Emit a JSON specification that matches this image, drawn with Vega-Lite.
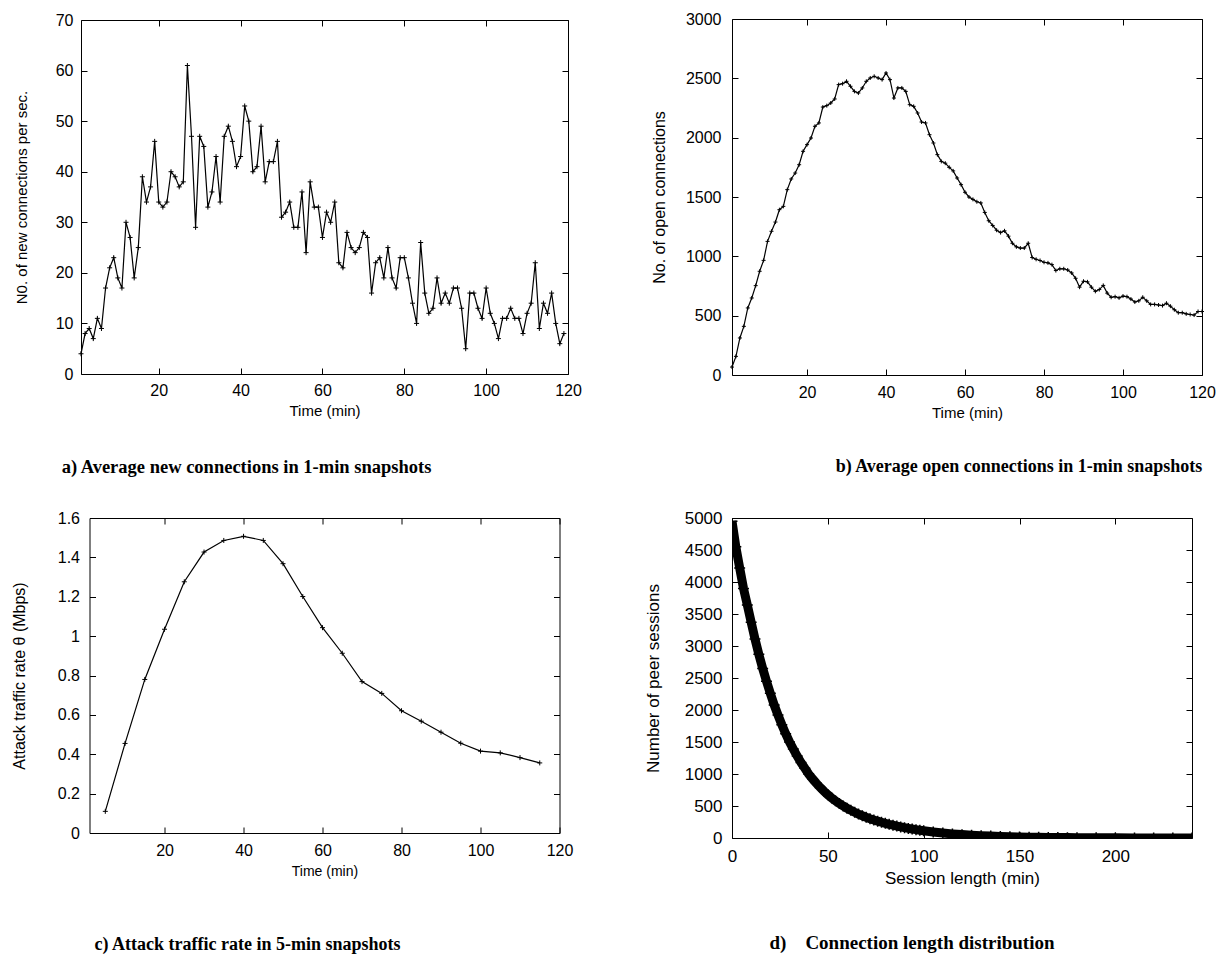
{
  "$schema": "https://vega.github.io/schema/vega-lite/v6.json",
  "background": "white",
  "padding": {"left": 10, "top": 10, "right": 5, "bottom": 5},
  "config": {
    "view": {"stroke": "black", "strokeWidth": 1},
    "font": "Liberation Sans",
    "axis": {
      "domain": false, "grid": false, "ticks": true, "tickSize": -6, "tickColor": "black", "tickWidth": 1,
      "labelColor": "black", "titleColor": "black", "labelFont": "Liberation Sans", "titleFont": "Liberation Sans",
      "titleFontWeight": "normal", "labelFlush": false, "labelOverlap": false
    }
  },
  "datasets": {
    "a": [
      {"t":1,"v":4},{"t":2,"v":8},{"t":3,"v":9},{"t":4,"v":7},{"t":5,"v":11},{"t":6,"v":9},{"t":7,"v":17},{"t":8,"v":21},{"t":9,"v":23},{"t":10,"v":19},
      {"t":11,"v":17},{"t":12,"v":30},{"t":13,"v":27},{"t":14,"v":19},{"t":15,"v":25},{"t":16,"v":39},{"t":17,"v":34},{"t":18,"v":37},{"t":19,"v":46},{"t":20,"v":34},
      {"t":21,"v":33},{"t":22,"v":34},{"t":23,"v":40},{"t":24,"v":39},{"t":25,"v":37},{"t":26,"v":38},{"t":27,"v":61},{"t":28,"v":47},{"t":29,"v":29},{"t":30,"v":47},
      {"t":31,"v":45},{"t":32,"v":33},{"t":33,"v":36},{"t":34,"v":43},{"t":35,"v":34},{"t":36,"v":47},{"t":37,"v":49},{"t":38,"v":46},{"t":39,"v":41},{"t":40,"v":43},
      {"t":41,"v":53},{"t":42,"v":50},{"t":43,"v":40},{"t":44,"v":41},{"t":45,"v":49},{"t":46,"v":38},{"t":47,"v":42},{"t":48,"v":42},{"t":49,"v":46},{"t":50,"v":31},
      {"t":51,"v":32},{"t":52,"v":34},{"t":53,"v":29},{"t":54,"v":29},{"t":55,"v":36},{"t":56,"v":24},{"t":57,"v":38},{"t":58,"v":33},{"t":59,"v":33},{"t":60,"v":27},
      {"t":61,"v":32},{"t":62,"v":30},{"t":63,"v":34},{"t":64,"v":22},{"t":65,"v":21},{"t":66,"v":28},{"t":67,"v":25},{"t":68,"v":24},{"t":69,"v":25},{"t":70,"v":28},
      {"t":71,"v":27},{"t":72,"v":16},{"t":73,"v":22},{"t":74,"v":23},{"t":75,"v":19},{"t":76,"v":25},{"t":77,"v":19},{"t":78,"v":17},{"t":79,"v":23},{"t":80,"v":23},
      {"t":81,"v":19},{"t":82,"v":14},{"t":83,"v":10},{"t":84,"v":26},{"t":85,"v":16},{"t":86,"v":12},{"t":87,"v":13},{"t":88,"v":19},{"t":89,"v":14},{"t":90,"v":16},
      {"t":91,"v":14},{"t":92,"v":17},{"t":93,"v":17},{"t":94,"v":13},{"t":95,"v":5},{"t":96,"v":16},{"t":97,"v":16},{"t":98,"v":13},{"t":99,"v":11},{"t":100,"v":17},
      {"t":101,"v":12},{"t":102,"v":10},{"t":103,"v":7},{"t":104,"v":11},{"t":105,"v":11},{"t":106,"v":13},{"t":107,"v":11},{"t":108,"v":11},{"t":109,"v":8},{"t":110,"v":12},
      {"t":111,"v":14},{"t":112,"v":22},{"t":113,"v":9},{"t":114,"v":14},{"t":115,"v":12},{"t":116,"v":16},{"t":117,"v":10},{"t":118,"v":6},{"t":119,"v":8}
    ],
    "b": [
      {"t":1,"v":67},{"t":2,"v":157},{"t":3,"v":312},{"t":4,"v":410},{"t":5,"v":565},{"t":6,"v":649},{"t":7,"v":753},{"t":8,"v":874},{"t":9,"v":966},{"t":10,"v":1126},
      {"t":11,"v":1211},{"t":12,"v":1289},{"t":13,"v":1393},{"t":14,"v":1421},{"t":15,"v":1562},{"t":16,"v":1652},{"t":17,"v":1702},{"t":18,"v":1772},{"t":19,"v":1885},{"t":20,"v":1941},
      {"t":21,"v":1997},{"t":22,"v":2096},{"t":23,"v":2124},{"t":24,"v":2258},{"t":25,"v":2270},{"t":26,"v":2292},{"t":27,"v":2326},{"t":28,"v":2447},{"t":29,"v":2455},{"t":30,"v":2475},
      {"t":31,"v":2433},{"t":32,"v":2390},{"t":33,"v":2376},{"t":34,"v":2419},{"t":35,"v":2475},{"t":36,"v":2503},{"t":37,"v":2517},{"t":38,"v":2503},{"t":39,"v":2489},{"t":40,"v":2545},
      {"t":41,"v":2489},{"t":42,"v":2334},{"t":43,"v":2419},{"t":44,"v":2419},{"t":45,"v":2390},{"t":46,"v":2278},{"t":47,"v":2264},{"t":48,"v":2208},{"t":49,"v":2132},{"t":50,"v":2124},
      {"t":51,"v":2025},{"t":52,"v":1955},{"t":53,"v":1857},{"t":54,"v":1800},{"t":55,"v":1785},{"t":56,"v":1750},{"t":57,"v":1720},{"t":58,"v":1660},{"t":59,"v":1604},{"t":60,"v":1540},
      {"t":61,"v":1500},{"t":62,"v":1480},{"t":63,"v":1460},{"t":64,"v":1450},{"t":65,"v":1370},{"t":66,"v":1300},{"t":67,"v":1260},{"t":68,"v":1220},{"t":69,"v":1200},{"t":70,"v":1215},
      {"t":71,"v":1170},{"t":72,"v":1110},{"t":73,"v":1080},{"t":74,"v":1070},{"t":75,"v":1070},{"t":76,"v":1110},{"t":77,"v":990},{"t":78,"v":975},{"t":79,"v":965},{"t":80,"v":950},
      {"t":81,"v":945},{"t":82,"v":930},{"t":83,"v":880},{"t":84,"v":895},{"t":85,"v":895},{"t":86,"v":885},{"t":87,"v":860},{"t":88,"v":815},{"t":89,"v":740},{"t":90,"v":790},
      {"t":91,"v":785},{"t":92,"v":740},{"t":93,"v":705},{"t":94,"v":720},{"t":95,"v":755},{"t":96,"v":690},{"t":97,"v":655},{"t":98,"v":660},{"t":99,"v":650},{"t":100,"v":665},
      {"t":101,"v":660},{"t":102,"v":640},{"t":103,"v":615},{"t":104,"v":625},{"t":105,"v":655},{"t":106,"v":625},{"t":107,"v":595},{"t":108,"v":595},{"t":109,"v":590},{"t":110,"v":585},
      {"t":111,"v":605},{"t":112,"v":580},{"t":113,"v":550},{"t":114,"v":525},{"t":115,"v":525},{"t":116,"v":515},{"t":117,"v":510},{"t":118,"v":505},{"t":119,"v":535},{"t":120,"v":535}
    ],
    "c": [
      {"t":5,"v":0.11},{"t":10,"v":0.455},{"t":15,"v":0.78},{"t":20,"v":1.035},{"t":25,"v":1.276},{"t":30,"v":1.427},{"t":35,"v":1.486},{"t":40,"v":1.507},
      {"t":45,"v":1.486},{"t":50,"v":1.368},{"t":55,"v":1.201},{"t":60,"v":1.043},{"t":65,"v":0.913},{"t":70,"v":0.769},{"t":75,"v":0.709},{"t":80,"v":0.621},
      {"t":85,"v":0.568},{"t":90,"v":0.512},{"t":95,"v":0.456},{"t":100,"v":0.416},{"t":105,"v":0.407},{"t":110,"v":0.383},{"t":115,"v":0.356}
    ],
    "d": [
      {"t":0,"v":4950},{"t":2,"v":4550},{"t":4,"v":4220},{"t":6,"v":3900},{"t":8,"v":3640},{"t":10,"v":3370},{"t":12,"v":3110},{"t":14,"v":2870},{"t":16,"v":2650},{"t":18,"v":2450},
      {"t":20,"v":2260},{"t":22,"v":2080},{"t":24,"v":1920},{"t":26,"v":1770},{"t":28,"v":1630},{"t":30,"v":1500},{"t":32,"v":1390},{"t":34,"v":1280},{"t":36,"v":1180},{"t":38,"v":1090},
      {"t":40,"v":1000},{"t":42,"v":925},{"t":44,"v":855},{"t":46,"v":790},{"t":48,"v":730},{"t":50,"v":675},{"t":52,"v":625},{"t":54,"v":580},{"t":56,"v":540},{"t":58,"v":500},
      {"t":60,"v":465},{"t":62,"v":432},{"t":64,"v":402},{"t":66,"v":374},{"t":68,"v":348},{"t":70,"v":324},{"t":72,"v":302},{"t":74,"v":282},{"t":76,"v":263},{"t":78,"v":246},
      {"t":80,"v":230},{"t":82,"v":214},{"t":84,"v":200},{"t":86,"v":186},{"t":88,"v":173},{"t":90,"v":161},{"t":92,"v":150},{"t":94,"v":140},{"t":96,"v":130},{"t":98,"v":121},
      {"t":100,"v":113},{"t":105,"v":94},{"t":110,"v":78},{"t":115,"v":64},{"t":120,"v":53},{"t":125,"v":44},{"t":130,"v":36},{"t":135,"v":30},{"t":140,"v":25},{"t":145,"v":20},
      {"t":150,"v":16},{"t":155,"v":13},{"t":160,"v":11},{"t":165,"v":9},{"t":170,"v":7},{"t":175,"v":6},{"t":180,"v":5},{"t":190,"v":3},{"t":200,"v":2},{"t":210,"v":1},
      {"t":220,"v":1},{"t":230,"v":0},{"t":240,"v":0}
    ]
  },
  "columns": 2,
  "bounds": "flush",
  "center": true,
  "spacing": {"row": 143, "column": 164},
  "concat": [
    {
      "width": 487, "height": 354,
      "title": {"text": "a) Average new connections in 1-min snapshots", "orient": "bottom", "anchor": "middle", "frame": "group", "dx": -78, "offset": 40, "font": "Liberation Serif", "fontSize": 18.5, "fontWeight": "bold", "color": "black"},
      "data": {"name": "a"},
      "layer": [
        {
          "mark": {"type": "line", "color": "black", "strokeWidth": 1.2},
          "encoding": {
            "x": {"field": "t", "type": "quantitative", "scale": {"domain": [1, 120], "nice": false, "zero": false},
                  "axis": {"orient": "bottom", "values": [20, 40, 60, 80, 100, 120], "title": "Time (min)", "labelFontSize": 16, "titleFontSize": 15, "labelPadding": 14, "titlePadding": 5}},
            "y": {"field": "v", "type": "quantitative", "scale": {"domain": [0, 70], "nice": false},
                  "axis": {"orient": "left", "values": [0, 10, 20, 30, 40, 50, 60, 70], "title": "N0. of new connections per sec.", "labelFontSize": 16, "titleFontSize": 15, "labelPadding": 14, "titlePadding": 26}}
          }
        },
        {
          "mark": {"type": "point", "shape": "M-1,0H1M0,-1V1", "filled": false, "color": "black", "strokeWidth": 1, "size": 25, "opacity": 1},
          "encoding": {
            "x": {"field": "t", "type": "quantitative", "axis": {"orient": "top", "values": [20, 40, 60, 80, 100, 120], "labels": false, "title": null}},
            "y": {"field": "v", "type": "quantitative", "axis": {"orient": "right", "values": [0, 10, 20, 30, 40, 50, 60, 70], "labels": false, "title": null}}
          }
        }
      ],
      "resolve": {"axis": {"x": "independent", "y": "independent"}}
    },
    {
      "width": 470, "height": 356,
      "title": {"text": "b) Average open connections in 1-min snapshots", "orient": "bottom", "anchor": "middle", "frame": "group", "dx": 52, "offset": 38, "font": "Liberation Serif", "fontSize": 18, "fontWeight": "bold", "color": "black"},
      "data": {"name": "b"},
      "layer": [
        {
          "mark": {"type": "line", "color": "black", "strokeWidth": 1.2},
          "encoding": {
            "x": {"field": "t", "type": "quantitative", "scale": {"domain": [1, 120], "nice": false, "zero": false},
                  "axis": {"orient": "bottom", "values": [20, 40, 60, 80, 100, 120], "title": "Time (min)", "labelFontSize": 16, "titleFontSize": 15, "labelPadding": 15, "titlePadding": 5}},
            "y": {"field": "v", "type": "quantitative", "scale": {"domain": [0, 3000], "nice": false},
                  "axis": {"orient": "left", "values": [0, 500, 1000, 1500, 2000, 2500, 3000], "format": "d", "title": "No. of open connections", "labelFontSize": 16, "titleFontSize": 16, "labelPadding": 17, "titlePadding": 18}}
          }
        },
        {
          "mark": {"type": "point", "shape": "M-1,0H1M0,-1V1", "filled": false, "color": "black", "strokeWidth": 1, "size": 16, "opacity": 1},
          "encoding": {
            "x": {"field": "t", "type": "quantitative", "axis": {"orient": "top", "values": [20, 40, 60, 80, 100, 120], "labels": false, "title": null}},
            "y": {"field": "v", "type": "quantitative", "axis": {"orient": "right", "values": [0, 500, 1000, 1500, 2000, 2500, 3000], "labels": false, "title": null}}
          }
        }
      ],
      "resolve": {"axis": {"x": "independent", "y": "independent"}}
    },
    {
      "width": 470, "height": 315,
      "title": {"text": "c) Attack traffic rate in 5-min snapshots", "orient": "bottom", "anchor": "middle", "frame": "group", "dx": -77, "offset": 58, "font": "Liberation Serif", "fontSize": 18, "fontWeight": "bold", "color": "black"},
      "data": {"name": "c"},
      "layer": [
        {
          "mark": {"type": "line", "color": "black", "strokeWidth": 1.2},
          "encoding": {
            "x": {"field": "t", "type": "quantitative", "scale": {"domain": [1, 120], "nice": false, "zero": false},
                  "axis": {"orient": "bottom", "values": [20, 40, 60, 80, 100, 120], "title": "Time (min)", "labelFontSize": 16, "titleFontSize": 14, "labelPadding": 15, "titlePadding": 6}},
            "y": {"field": "v", "type": "quantitative", "scale": {"domain": [0, 1.6], "nice": false},
                  "axis": {"orient": "left", "values": [0, 0.2, 0.4, 0.6, 0.8, 1, 1.2, 1.4, 1.6], "format": "~g", "title": "Attack traffic rate θ (Mbps)", "labelFontSize": 16, "titleFontSize": 16, "labelPadding": 16, "titlePadding": 30}}
          }
        },
        {
          "mark": {"type": "point", "shape": "M-1,0H1M0,-1V1", "filled": false, "color": "black", "strokeWidth": 1, "size": 25, "opacity": 1},
          "encoding": {
            "x": {"field": "t", "type": "quantitative", "axis": {"orient": "top", "values": [20, 40, 60, 80, 100, 120], "labels": false, "title": null}},
            "y": {"field": "v", "type": "quantitative", "axis": {"orient": "right", "values": [0, 0.2, 0.4, 0.6, 0.8, 1, 1.2, 1.4, 1.6], "labels": false, "title": null}}
          }
        }
      ],
      "resolve": {"axis": {"x": "independent", "y": "independent"}}
    },
    {
      "width": 460, "height": 320,
      "title": {"text": "d)\u00a0\u00a0\u00a0\u00a0Connection length distribution", "orient": "bottom", "anchor": "middle", "frame": "group", "dx": -50, "offset": 48, "font": "Liberation Serif", "fontSize": 19, "fontWeight": "bold", "color": "black"},
      "data": {"name": "d"},
      "layer": [
        {
          "mark": {"type": "line", "color": "black", "strokeWidth": 9, "clip": true},
          "encoding": {
            "x": {"field": "t", "type": "quantitative", "scale": {"domain": [0, 240], "nice": false, "zero": false},
                  "axis": {"orient": "bottom", "values": [0, 50, 100, 150, 200], "title": "Session length (min)", "labelFontSize": 17, "titleFontSize": 17, "labelPadding": 16, "titlePadding": 6}},
            "y": {"field": "v", "type": "quantitative", "scale": {"domain": [0, 5000], "nice": false},
                  "axis": {"orient": "left", "values": [0, 500, 1000, 1500, 2000, 2500, 3000, 3500, 4000, 4500, 5000], "format": "d", "title": "Number of peer sessions", "labelFontSize": 17, "titleFontSize": 17, "labelPadding": 16, "titlePadding": 22}}
          }
        },
        {
          "mark": {"type": "point", "shape": "M-1,0H1M0,-1V1", "filled": false, "color": "black", "strokeWidth": 1.5, "size": 120, "opacity": 1, "clip": true},
          "encoding": {
            "x": {"field": "t", "type": "quantitative", "axis": {"orient": "top", "values": [0, 50, 100, 150, 200], "labels": false, "title": null}},
            "y": {"field": "v", "type": "quantitative", "axis": {"orient": "right", "values": [0, 500, 1000, 1500, 2000, 2500, 3000, 3500, 4000, 4500, 5000], "labels": false, "title": null}}
          }
        }
      ],
      "resolve": {"axis": {"x": "independent", "y": "independent"}}
    }
  ]
}
